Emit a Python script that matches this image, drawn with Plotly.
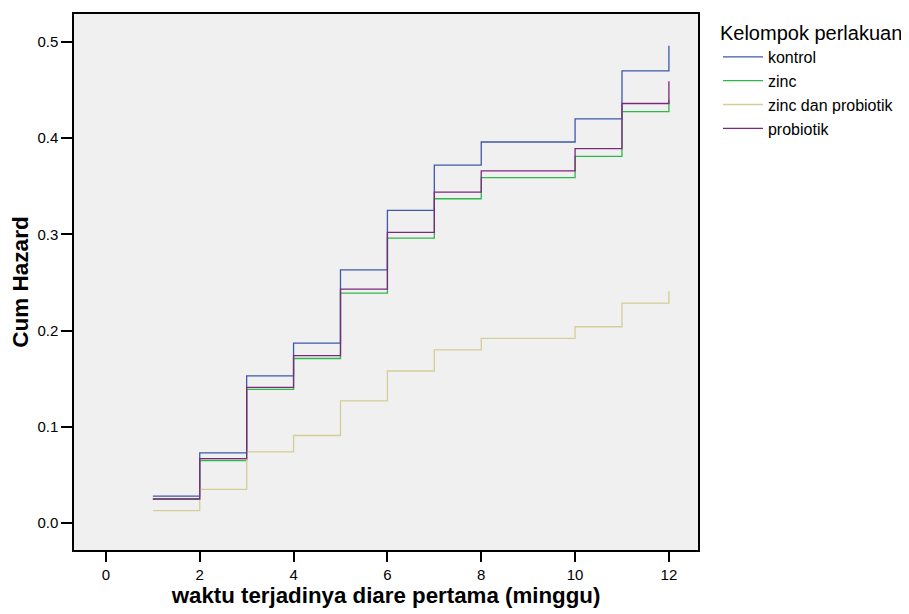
import plotly.graph_objects as go

# Event times (weeks)
times = [1, 2, 3, 4, 5, 6, 7, 8, 10, 11, 12]

# Cumulative hazard per group
kontrol = [0.028, 0.073, 0.153, 0.187, 0.263, 0.325, 0.372, 0.396, 0.420, 0.470, 0.496]
zinc = [0.025, 0.065, 0.139, 0.171, 0.239, 0.296, 0.337, 0.359, 0.381, 0.4275, 0.440]
zinc_probiotik = [0.013, 0.035, 0.074, 0.091, 0.127, 0.158, 0.180, 0.192, 0.204, 0.2285, 0.241]
probiotik = [0.025, 0.067, 0.141, 0.174, 0.243, 0.302, 0.344, 0.366, 0.389, 0.436, 0.459]

series_names = ["kontrol", "zinc", "zinc dan probiotik", "probiotik"]
series_values = [kontrol, zinc, zinc_probiotik, probiotik]
colors = ["#3E58AC", "#2EB848", "#D3CE97", "#7C287D"]

x_ticks = [0, 2, 4, 6, 8, 10, 12]
y_ticks = [0.0, 0.1, 0.2, 0.3, 0.4, 0.5]

FONT = "Liberation Sans, Arial, sans-serif"

fig = go.Figure()
for name, vals, col in zip(series_names, series_values, colors):
    fig.add_trace(go.Scatter(
        x=times, y=vals, name=name, mode="lines",
        line=dict(shape="hv", color=col, width=1.3),
    ))

fig.update_layout(
    width=901, height=606,
    margin=dict(l=66, r=209, t=4, b=64),
    paper_bgcolor="white",
    plot_bgcolor="#F0F0F0",
    font=dict(family=FONT, color="black", size=15),
    legend=dict(
        title=dict(text="Kelompok perlakuan", font=dict(size=20, family=FONT)),
        x=1.032, y=1.0, xanchor="left", yanchor="top",
        font=dict(size=16, family=FONT),
        bgcolor="rgba(0,0,0,0)",
        itemwidth=40,
    ),
    showlegend=True,
)

fig.update_xaxes(
    range=[-0.68, 12.62],
    tickvals=x_ticks, ticktext=[str(v) for v in x_ticks],
    ticks="outside", ticklen=10, tickwidth=2, tickcolor="black",
    showline=True, linecolor="black", linewidth=1.5, mirror=True,
    showgrid=False, zeroline=False,
    title=dict(text="<b>waktu terjadinya diare pertama (minggu)</b>",
               font=dict(size=22.3, family=FONT), standoff=5),
    tickfont=dict(size=15),
)
fig.update_yaxes(
    range=[-0.028, 0.529],
    tickvals=y_ticks, ticktext=[f"{v:.1f}" for v in y_ticks],
    ticks="outside", ticklen=11, tickwidth=2, tickcolor="black",
    showline=True, linecolor="black", linewidth=1.5, mirror=True,
    showgrid=False, zeroline=False,
    title=dict(text="<b>Cum Hazard</b>", font=dict(size=22.5, family=FONT), standoff=3),
    tickfont=dict(size=15),
)

fig.write_html("out.html")
